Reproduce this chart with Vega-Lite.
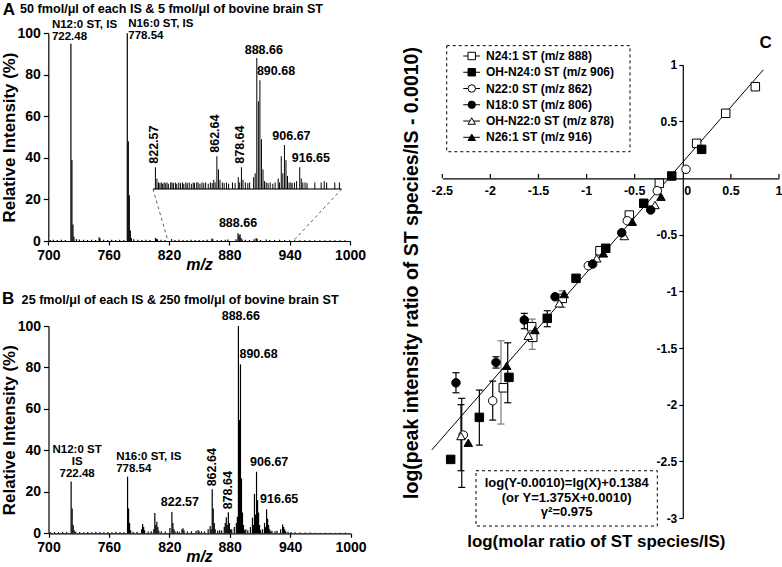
{
  "$schema": "https://vega.github.io/schema/vega-lite/v6.json",
  "width": 782,
  "height": 567,
  "autosize": "none",
  "padding": 0,
  "background": "white",
  "config": {
    "view": {"stroke": null},
    "font": "Liberation Sans",
    "axis": {"grid": false, "domainColor": "black", "tickColor": "black", "labelColor": "black", "titleColor": "black", "labelFontWeight": "bold", "titleFontWeight": "bold", "labelFlush": false, "labelOverlap": false, "domainWidth": 1.2, "tickWidth": 1.2},
    "text": {"font": "Liberation Sans", "fontWeight": "bold", "color": "black"}
  },
  "datasets": {
    "specA": [
      {"mz": 722.48, "int": 95}, {"mz": 723.48, "int": 39}, {"mz": 724.49, "int": 8}, {"mz": 725.5, "int": 2},
      {"mz": 778.54, "int": 100}, {"mz": 779.55, "int": 48}, {"mz": 780.55, "int": 22}, {"mz": 781.56, "int": 5}, {"mz": 782.6, "int": 1.5},
      {"mz": 750.5, "int": 1.8}, {"mz": 751.5, "int": 1.2}, {"mz": 806.6, "int": 1.5}, {"mz": 807.6, "int": 1}, {"mz": 808.6, "int": 0.8},
      {"mz": 822.6, "int": 0.9}, {"mz": 862.64, "int": 1.2}, {"mz": 863.6, "int": 0.8}, {"mz": 878.6, "int": 0.7}, {"mz": 886.6, "int": 0.8},
      {"mz": 888.66, "int": 3.7}, {"mz": 889.67, "int": 2.6}, {"mz": 890.68, "int": 3.2}, {"mz": 891.7, "int": 1.4}, {"mz": 892.7, "int": 0.7},
      {"mz": 904.6, "int": 0.8}, {"mz": 906.67, "int": 1.5}, {"mz": 907.7, "int": 1}, {"mz": 916.65, "int": 0.7},
      {"mz": 702, "int": 0.5}, {"mz": 705, "int": 0.6}, {"mz": 709, "int": 0.5}, {"mz": 713, "int": 0.6}, {"mz": 717, "int": 0.5},
      {"mz": 728, "int": 0.9}, {"mz": 731, "int": 0.7}, {"mz": 735, "int": 0.6}, {"mz": 739, "int": 0.5}, {"mz": 743, "int": 0.6},
      {"mz": 747, "int": 0.5}, {"mz": 755, "int": 0.6}, {"mz": 759, "int": 0.5}, {"mz": 763, "int": 0.6}, {"mz": 767, "int": 0.5},
      {"mz": 771, "int": 0.6}, {"mz": 775, "int": 0.5}, {"mz": 785, "int": 0.8}, {"mz": 789, "int": 0.6}, {"mz": 793, "int": 0.5},
      {"mz": 797, "int": 0.6}, {"mz": 801, "int": 0.5}, {"mz": 812, "int": 0.6}, {"mz": 816, "int": 0.5}, {"mz": 826, "int": 0.5},
      {"mz": 830, "int": 0.6}, {"mz": 834, "int": 0.5}, {"mz": 838, "int": 0.5}, {"mz": 842, "int": 0.6}, {"mz": 846, "int": 0.5},
      {"mz": 850, "int": 0.5}, {"mz": 854, "int": 0.5}, {"mz": 858, "int": 0.6}, {"mz": 868, "int": 0.5}, {"mz": 872, "int": 0.5},
      {"mz": 876, "int": 0.6}, {"mz": 896, "int": 0.6}, {"mz": 900, "int": 0.5}, {"mz": 911, "int": 0.5}, {"mz": 920, "int": 0.5},
      {"mz": 925, "int": 0.5}, {"mz": 930, "int": 0.6}, {"mz": 935, "int": 0.5}, {"mz": 940, "int": 0.4}, {"mz": 945, "int": 0.4},
      {"mz": 950, "int": 0.4}, {"mz": 955, "int": 0.4}, {"mz": 960, "int": 0.4}, {"mz": 965, "int": 0.4}, {"mz": 970, "int": 0.4},
      {"mz": 975, "int": 0.4}, {"mz": 980, "int": 0.4}, {"mz": 985, "int": 0.4}, {"mz": 990, "int": 0.4}, {"mz": 995, "int": 0.4}
    ],
    "specInset": [
      {"mz": 822.57, "int": 16.6}, {"mz": 823.58, "int": 8}, {"mz": 824.6, "int": 5},
      {"mz": 862.64, "int": 25}, {"mz": 863.65, "int": 15}, {"mz": 864.65, "int": 7},
      {"mz": 876.6, "int": 9}, {"mz": 878.64, "int": 16.6}, {"mz": 879.65, "int": 7},
      {"mz": 886.6, "int": 9}, {"mz": 887.6, "int": 12}, {"mz": 888.66, "int": 100}, {"mz": 889.67, "int": 67}, {"mz": 890.68, "int": 83},
      {"mz": 891.69, "int": 38}, {"mz": 892.7, "int": 15}, {"mz": 893.7, "int": 6},
      {"mz": 902.6, "int": 8}, {"mz": 904.6, "int": 25}, {"mz": 905.6, "int": 12}, {"mz": 906.67, "int": 33.6}, {"mz": 907.68, "int": 22},
      {"mz": 908.68, "int": 10}, {"mz": 909.7, "int": 5},
      {"mz": 914.6, "int": 6}, {"mz": 916.65, "int": 16.6}, {"mz": 917.66, "int": 8}, {"mz": 918.66, "int": 5}, {"mz": 932.6, "int": 6},
      {"mz": 825.5, "int": 4.5}, {"mz": 826.4, "int": 5}, {"mz": 827.3, "int": 4}, {"mz": 828.2, "int": 5}, {"mz": 829.0, "int": 4.5},
      {"mz": 830.1, "int": 5}, {"mz": 831.0, "int": 4}, {"mz": 832.5, "int": 5}, {"mz": 833.4, "int": 5}, {"mz": 834.3, "int": 4.5},
      {"mz": 835.6, "int": 5}, {"mz": 836.5, "int": 4}, {"mz": 837.8, "int": 5}, {"mz": 838.9, "int": 4.5}, {"mz": 840.2, "int": 5},
      {"mz": 841.1, "int": 4}, {"mz": 842.4, "int": 5}, {"mz": 843.3, "int": 4.5}, {"mz": 844.6, "int": 5}, {"mz": 846.0, "int": 4},
      {"mz": 847.2, "int": 5}, {"mz": 848.1, "int": 4.5}, {"mz": 849.5, "int": 5}, {"mz": 850.4, "int": 5}, {"mz": 851.6, "int": 4},
      {"mz": 852.9, "int": 5}, {"mz": 854.1, "int": 4.5}, {"mz": 855.3, "int": 5}, {"mz": 857.0, "int": 4}, {"mz": 858.4, "int": 5},
      {"mz": 859.6, "int": 4.5}, {"mz": 860.6, "int": 7}, {"mz": 861.5, "int": 5}, {"mz": 866.2, "int": 5}, {"mz": 867.4, "int": 4.5},
      {"mz": 868.9, "int": 5}, {"mz": 870.3, "int": 4}, {"mz": 872.8, "int": 5}, {"mz": 874.5, "int": 4.5}, {"mz": 877.5, "int": 5},
      {"mz": 881.2, "int": 5}, {"mz": 882.8, "int": 4.5}, {"mz": 884.0, "int": 5}, {"mz": 894.8, "int": 5}, {"mz": 896.0, "int": 4.5},
      {"mz": 897.4, "int": 5}, {"mz": 899.1, "int": 4}, {"mz": 900.6, "int": 5}, {"mz": 903.5, "int": 5}, {"mz": 910.9, "int": 5},
      {"mz": 911.7, "int": 4.5}, {"mz": 913.2, "int": 5}, {"mz": 920.1, "int": 5}, {"mz": 921.4, "int": 4.5}, {"mz": 926.5, "int": 5},
      {"mz": 930.6, "int": 5}, {"mz": 934.2, "int": 5}, {"mz": 939.5, "int": 5}, {"mz": 942.5, "int": 5}
    ],
    "specB": [
      {"mz": 722.48, "int": 25}, {"mz": 723.49, "int": 12}, {"mz": 724.49, "int": 4}, {"mz": 725.5, "int": 1.5},
      {"mz": 778.54, "int": 27.3}, {"mz": 779.55, "int": 12}, {"mz": 780.55, "int": 5}, {"mz": 781.56, "int": 1.5},
      {"mz": 792.5, "int": 2}, {"mz": 793.5, "int": 4.5}, {"mz": 794.5, "int": 3}, {"mz": 795.5, "int": 1.5},
      {"mz": 804.6, "int": 2}, {"mz": 805.6, "int": 9.8}, {"mz": 806.6, "int": 4}, {"mz": 807.6, "int": 5.6}, {"mz": 808.6, "int": 3}, {"mz": 809.6, "int": 1.2},
      {"mz": 820.6, "int": 2.5}, {"mz": 822.57, "int": 10.3}, {"mz": 823.58, "int": 5}, {"mz": 824.58, "int": 2}, {"mz": 825.6, "int": 1},
      {"mz": 832.6, "int": 2}, {"mz": 833.6, "int": 2.4}, {"mz": 834.6, "int": 1.5},
      {"mz": 846.6, "int": 1.2}, {"mz": 848.6, "int": 1.6}, {"mz": 849.6, "int": 1},
      {"mz": 858.6, "int": 2}, {"mz": 860.6, "int": 3.5}, {"mz": 861.6, "int": 2}, {"mz": 862.64, "int": 21.2}, {"mz": 863.65, "int": 12}, {"mz": 864.65, "int": 5}, {"mz": 865.6, "int": 2},
      {"mz": 874.6, "int": 3}, {"mz": 875.6, "int": 5}, {"mz": 876.6, "int": 7.7}, {"mz": 877.6, "int": 4}, {"mz": 878.64, "int": 10.1}, {"mz": 879.65, "int": 5}, {"mz": 880.6, "int": 2},
      {"mz": 884.6, "int": 3}, {"mz": 886.6, "int": 5}, {"mz": 887.6, "int": 8}, {"mz": 888.66, "int": 100}, {"mz": 889.67, "int": 54.7}, {"mz": 890.68, "int": 81.5},
      {"mz": 891.69, "int": 26.5}, {"mz": 892.7, "int": 10}, {"mz": 893.7, "int": 4}, {"mz": 894.7, "int": 1.5},
      {"mz": 900.6, "int": 3}, {"mz": 902.6, "int": 7.5}, {"mz": 903.6, "int": 4}, {"mz": 904.6, "int": 19}, {"mz": 905.6, "int": 9}, {"mz": 906.67, "int": 29.7},
      {"mz": 907.68, "int": 16}, {"mz": 908.68, "int": 10}, {"mz": 909.7, "int": 4}, {"mz": 910.7, "int": 1.5},
      {"mz": 912.6, "int": 2}, {"mz": 914.6, "int": 5}, {"mz": 915.6, "int": 3}, {"mz": 916.65, "int": 11.6}, {"mz": 917.66, "int": 7}, {"mz": 918.66, "int": 4}, {"mz": 919.7, "int": 2}, {"mz": 920.7, "int": 1},
      {"mz": 930.6, "int": 2}, {"mz": 932.6, "int": 4.3}, {"mz": 933.6, "int": 3}, {"mz": 934.6, "int": 2}, {"mz": 935.6, "int": 1},
      {"mz": 702, "int": 0.5}, {"mz": 706, "int": 0.6}, {"mz": 710, "int": 0.5}, {"mz": 714, "int": 0.7}, {"mz": 718, "int": 0.6},
      {"mz": 727, "int": 0.8}, {"mz": 731, "int": 0.6}, {"mz": 735, "int": 0.5}, {"mz": 739, "int": 0.6}, {"mz": 743, "int": 0.5},
      {"mz": 747, "int": 0.7}, {"mz": 751, "int": 0.6}, {"mz": 755, "int": 0.5}, {"mz": 759, "int": 0.6}, {"mz": 763, "int": 0.5},
      {"mz": 767, "int": 0.7}, {"mz": 771, "int": 0.6}, {"mz": 775, "int": 0.5}, {"mz": 784, "int": 0.8}, {"mz": 788, "int": 0.7},
      {"mz": 799, "int": 0.9}, {"mz": 802, "int": 1}, {"mz": 812, "int": 1}, {"mz": 816, "int": 0.9}, {"mz": 828, "int": 1},
      {"mz": 830, "int": 0.8}, {"mz": 838, "int": 0.9}, {"mz": 842, "int": 1}, {"mz": 852, "int": 1}, {"mz": 855, "int": 0.9},
      {"mz": 868, "int": 1.2}, {"mz": 870, "int": 1.5}, {"mz": 872, "int": 1.3}, {"mz": 882, "int": 2}, {"mz": 896, "int": 2},
      {"mz": 898, "int": 1.5}, {"mz": 922, "int": 1.2}, {"mz": 925, "int": 1}, {"mz": 927, "int": 1.2}, {"mz": 938, "int": 0.8},
      {"mz": 941, "int": 0.6}, {"mz": 945, "int": 0.5}, {"mz": 950, "int": 0.4}, {"mz": 955, "int": 0.4}, {"mz": 960, "int": 0.4},
      {"mz": 965, "int": 0.3}, {"mz": 970, "int": 0.3}, {"mz": 975, "int": 0.3}, {"mz": 980, "int": 0.3}, {"mz": 985, "int": 0.3},
      {"mz": 990, "int": 0.3}, {"mz": 995, "int": 0.3}
    ],
    "labA": [
      {"mz": 722.48, "int": 95, "label": "N12:0 ST, IS\n722.48"},
      {"mz": 778.54, "int": 100, "label": "N16:0 ST, IS\n778.54"},
      {"mz": 888.66, "int": 3.7, "label": "888.66"}
    ],
    "labInset": [
      {"mz": 888.66, "int": 100, "label": "888.66"},
      {"mz": 906.67, "int": 33.6, "label": "906.67"},
      {"mz": 890.68, "int": 83, "label": "890.68"},
      {"mz": 916.65, "int": 16.6, "label": "916.65"},
      {"mz": 822.57, "int": 16.6, "label": "822.57"},
      {"mz": 862.64, "int": 25, "label": "862.64"},
      {"mz": 878.64, "int": 16.6, "label": "878.64"}
    ],
    "labB": [
      {"mz": 722.48, "int": 25, "label": "N12:0 ST\nIS\n722.48"},
      {"mz": 822.57, "int": 10.3, "label": "822.57"},
      {"mz": 778.54, "int": 27.3, "label": "N16:0 ST, IS\n778.54"},
      {"mz": 888.66, "int": 100, "label": "888.66"},
      {"mz": 890.68, "int": 81.5, "label": "890.68"},
      {"mz": 906.67, "int": 29.7, "label": "906.67"},
      {"mz": 916.65, "int": 11.6, "label": "916.65"},
      {"mz": 862.64, "int": 21.2, "label": "862.64"},
      {"mz": 878.64, "int": 10.1, "label": "878.64"}
    ],
    "connA": [
      {"mz": 804.1, "int": 25, "mz2": 819, "int2": 0},
      {"mz": 991.7, "int": 25, "mz2": 943.6, "int2": 0}
    ],
    "insetRange": [{"from": 821, "to": 944}],
    "titles": [
      {"panel": "A", "title": "50 fmol/μl of each IS & 5 fmol/μl of bovine brain ST"},
      {"panel": "B", "title": "25 fmol/μl of each IS & 250 fmol/μl of bovine brain ST"},
      {"panel": "C", "title": ""}
    ],
    "pts": [
      {"series": "N24:1", "x": 0.754, "y": 0.806}, {"series": "N24:1", "x": 0.446, "y": 0.571}, {"series": "N24:1", "x": 0.144, "y": 0.306},
      {"series": "N24:1", "x": -0.244, "y": -0.047}, {"series": "N24:1", "x": -0.556, "y": -0.327}, {"series": "N24:1", "x": -0.861, "y": -0.642},
      {"series": "N24:1", "x": -1.253, "y": -1.062}, {"series": "N24:1", "x": -1.571, "y": -1.312}, {"series": "N24:1", "x": -1.56, "y": -1.406},
      {"series": "N24:1", "x": -1.866, "y": -1.851},
      {"series": "N22:0", "x": 0.033, "y": 0.077}, {"series": "N22:0", "x": -0.265, "y": -0.112}, {"series": "N22:0", "x": -0.577, "y": -0.377},
      {"series": "N22:0", "x": -0.982, "y": -0.774}, {"series": "N22:0", "x": -1.976, "y": -1.966}, {"series": "N22:0", "x": -2.282, "y": -2.268},
      {"series": "OH-N22:0", "x": -0.289, "y": -0.238}, {"series": "OH-N22:0", "x": -0.608, "y": -0.512}, {"series": "OH-N22:0", "x": -0.895, "y": -0.709},
      {"series": "OH-N22:0", "x": -1.284, "y": -1.106}, {"series": "OH-N22:0", "x": -1.606, "y": -1.392}, {"series": "OH-N22:0", "x": -2.306, "y": -2.277},
      {"series": "OH-N24:0", "x": 0.196, "y": 0.253}, {"series": "OH-N24:0", "x": -0.115, "y": 0.018}, {"series": "OH-N24:0", "x": -0.406, "y": -0.223},
      {"series": "OH-N24:0", "x": -0.801, "y": -0.62}, {"series": "OH-N24:0", "x": -1.11, "y": -0.885}, {"series": "OH-N24:0", "x": -1.409, "y": -1.238},
      {"series": "OH-N24:0", "x": -1.807, "y": -1.759}, {"series": "OH-N24:0", "x": -2.115, "y": -2.112}, {"series": "OH-N24:0", "x": -2.413, "y": -2.483},
      {"series": "N18:0", "x": -0.334, "y": -0.282}, {"series": "N18:0", "x": -0.635, "y": -0.483}, {"series": "N18:0", "x": -0.937, "y": -0.759},
      {"series": "N18:0", "x": -1.328, "y": -1.048}, {"series": "N18:0", "x": -1.648, "y": -1.253}, {"series": "N18:0", "x": -1.942, "y": -1.627},
      {"series": "N18:0", "x": -2.358, "y": -1.807},
      {"series": "N26:1", "x": -0.227, "y": -0.165}, {"series": "N26:1", "x": -0.525, "y": -0.386}, {"series": "N26:1", "x": -0.826, "y": -0.665},
      {"series": "N26:1", "x": -1.232, "y": -1.024}, {"series": "N26:1", "x": -1.536, "y": -1.342}, {"series": "N26:1", "x": -1.831, "y": -1.657},
      {"series": "N26:1", "x": -2.23, "y": -2.336}
    ],
    "err": [
      {"series": "N18:0", "x": -2.358, "lo": -1.895, "hi": -1.718},
      {"series": "N22:0", "x": -2.298, "lo": -2.73, "hi": -1.944},
      {"series": "OH-N22:0", "x": -2.306, "lo": -2.583, "hi": -2.0},
      {"series": "OH-N24:0", "x": -2.115, "lo": -2.357, "hi": -1.871},
      {"series": "N22:0", "x": -1.976, "lo": -2.136, "hi": -1.792},
      {"series": "N18:0", "x": -1.942, "lo": -1.677, "hi": -1.577},
      {"series": "N24:1", "x": -1.89, "lo": -2.171, "hi": -1.436},
      {"series": "OH-N24:0", "x": -1.82, "lo": -1.983, "hi": -1.454},
      {"series": "N18:0", "x": -1.648, "lo": -1.33, "hi": -1.194},
      {"series": "N24:1", "x": -1.565, "lo": -1.512, "hi": -1.245},
      {"series": "OH-N24:0", "x": -1.409, "lo": -1.312, "hi": -1.171},
      {"series": "N24:1", "x": -1.253, "lo": -1.141, "hi": -0.995}
    ],
    "fit": [{"x": -2.61, "y": -2.4}, {"x": 0.837, "y": 0.955}],
    "legendC": [
      {"series": "N24:1", "label": "N24:1 ST (m/z 888)"},
      {"series": "OH-N24:0", "label": "OH-N24:0 ST (m/z 906)"},
      {"series": "N22:0", "label": "N22:0 ST (m/z 862)"},
      {"series": "N18:0", "label": "N18:0 ST (m/z 806)"},
      {"series": "OH-N22:0", "label": "OH-N22:0 ST (m/z 878)"},
      {"series": "N26:1", "label": "N26:1 ST (m/z 916)"}
    ],
    "eq": [{"text": "log(Y-0.0010)=lg(X)+0.1384\n(or Y=1.375X+0.0010)\nγ²=0.975"}],
    "boxes": [{"box": "legend"}, {"box": "equation"}],
    "origin": [{"x": 0, "y": 0, "label": "0"}],
    "cTicks": [
      {"v": -2.5, "label": "-2.5"}, {"v": -2, "label": "-2"}, {"v": -1.5, "label": "-1.5"}, {"v": -1, "label": "-1"},
      {"v": -0.5, "label": "-0.5"}, {"v": 0.5, "label": "0.5"}, {"v": 1, "label": "1"}
    ]
  },
  "layer": [
    {
      "data": {"name": "specA"},
      "mark": {"type": "rule", "color": "black", "strokeWidth": 1.2},
      "encoding": {
        "x": {"field": "mz", "type": "quantitative", "scale": {"domain": [700, 1000], "range": [48.3, 350], "nice": false, "zero": false},
          "axis": {"orient": "bottom", "offset": -326, "values": [700, 760, 820, 880, 940, 1000], "format": "d", "tickSize": 4, "labelPadding": 3, "labelFontSize": 14,
            "title": "m/z", "titleFontStyle": "italic", "titleFontSize": 16, "titleX": 199, "titleY": 23, "titleBaseline": "middle", "titleAlign": "center", "titleAngle": 0}},
        "y": {"field": "int", "type": "quantitative", "scale": {"domain": [0, 100], "range": [241, 33.3], "nice": false, "zero": false},
          "axis": {"orient": "left", "offset": -48.3, "values": [0, 20, 40, 60, 80, 100], "format": "d", "tickSize": 5, "labelPadding": 3, "labelFontSize": 14,
            "title": "Relative Intensity (%)", "titleFontSize": 16.9, "titleAngle": 270, "titleX": -38.8, "titleY": 137, "titleBaseline": "middle", "titleAlign": "center"}},
        "y2": {"datum": 0}
      }
    },
    {
      "data": {"name": "labA"},
      "transform": [{"filter": {"field": "mz", "oneOf": [722.48]}}],
      "mark": {"type": "text", "align": "left", "baseline": "bottom", "dx": -19, "dy": -14, "fontSize": 11.5, "lineBreak": "\n", "lineHeight": 12},
      "encoding": {
        "x": {"field": "mz", "type": "quantitative", "scale": {"domain": [700, 1000], "range": [48.3, 350], "nice": false, "zero": false}, "axis": null},
        "y": {"field": "int", "type": "quantitative", "scale": {"domain": [0, 100], "range": [241, 33.3], "nice": false, "zero": false}, "axis": null},
        "text": {"field": "label"}}
    },
    {
      "data": {"name": "labA"},
      "transform": [{"filter": {"field": "mz", "oneOf": [778.54]}}],
      "mark": {"type": "text", "align": "left", "baseline": "bottom", "dx": 1, "dy": -4, "fontSize": 11.5, "lineBreak": "\n", "lineHeight": 12},
      "encoding": {
        "x": {"field": "mz", "type": "quantitative", "scale": {"domain": [700, 1000], "range": [48.3, 350], "nice": false, "zero": false}, "axis": null},
        "y": {"field": "int", "type": "quantitative", "scale": {"domain": [0, 100], "range": [241, 33.3], "nice": false, "zero": false}, "axis": null},
        "text": {"field": "label"}}
    },
    {
      "data": {"name": "labA"},
      "transform": [{"filter": {"field": "mz", "oneOf": [888.66]}}],
      "mark": {"type": "text", "align": "center", "baseline": "bottom", "dx": 0, "dy": -3, "fontSize": 12.5},
      "encoding": {
        "x": {"field": "mz", "type": "quantitative", "scale": {"domain": [700, 1000], "range": [48.3, 350], "nice": false, "zero": false}, "axis": null},
        "y": {"field": "int", "type": "quantitative", "scale": {"domain": [0, 100], "range": [241, 33.3], "nice": false, "zero": false}, "axis": null},
        "text": {"field": "label"}}
    },
    {
      "data": {"name": "connA"},
      "mark": {"type": "rule", "color": "#333", "strokeWidth": 0.8, "strokeDash": [3, 3]},
      "encoding": {
        "x": {"field": "mz", "type": "quantitative", "scale": {"domain": [700, 1000], "range": [48.3, 350], "nice": false, "zero": false}, "axis": null},
        "y": {"field": "int", "type": "quantitative", "scale": {"domain": [0, 100], "range": [241, 33.3], "nice": false, "zero": false}, "axis": null},
        "x2": {"field": "mz2"}, "y2": {"field": "int2"}}
    },
    {
      "data": {"name": "titles"},
      "transform": [{"filter": "datum.panel == 'A'"}],
      "mark": {"type": "text", "align": "left", "baseline": "middle", "fontSize": 17},
      "encoding": {
        "x": {"datum": 654.7, "type": "quantitative", "scale": {"domain": [700, 1000], "range": [48.3, 350], "nice": false, "zero": false}, "axis": null},
        "y": {"datum": 111.2, "type": "quantitative", "scale": {"domain": [0, 100], "range": [241, 33.3], "nice": false, "zero": false}, "axis": null},
        "text": {"field": "panel"}}
    },
    {
      "data": {"name": "titles"},
      "transform": [{"filter": "datum.panel == 'A'"}],
      "mark": {"type": "text", "align": "left", "baseline": "middle", "fontSize": 12.6},
      "encoding": {
        "x": {"datum": 671.9, "type": "quantitative", "scale": {"domain": [700, 1000], "range": [48.3, 350], "nice": false, "zero": false}, "axis": null},
        "y": {"datum": 111.7, "type": "quantitative", "scale": {"domain": [0, 100], "range": [241, 33.3], "nice": false, "zero": false}, "axis": null},
        "text": {"field": "title"}}
    },
    {
      "data": {"name": "insetRange"},
      "mark": {"type": "rule", "color": "#444", "strokeWidth": 1.5},
      "encoding": {
        "x": {"field": "from", "type": "quantitative", "scale": {"domain": [821, 944], "range": [153, 341.7], "nice": false, "zero": false}, "axis": null},
        "x2": {"field": "to"},
        "y": {"datum": 0, "type": "quantitative", "scale": {"domain": [0, 100], "range": [189, 58], "nice": false, "zero": false}, "axis": null}
      }
    },
    {
      "data": {"name": "specInset"},
      "mark": {"type": "rule", "color": "black", "strokeWidth": 1},
      "encoding": {
        "x": {"field": "mz", "type": "quantitative", "scale": {"domain": [821, 944], "range": [153, 341.7], "nice": false, "zero": false}, "axis": null},
        "y": {"field": "int", "type": "quantitative", "scale": {"domain": [0, 100], "range": [189, 58], "nice": false, "zero": false}, "axis": null},
        "y2": {"datum": 0}}
    },
    {
      "data": {"name": "labInset"},
      "transform": [{"filter": {"field": "mz", "oneOf": [888.66, 906.67]}}],
      "mark": {"type": "text", "align": "center", "baseline": "bottom", "dx": 7, "dy": -1.5, "fontSize": 12.5},
      "encoding": {
        "x": {"field": "mz", "type": "quantitative", "scale": {"domain": [821, 944], "range": [153, 341.7], "nice": false, "zero": false}, "axis": null},
        "y": {"field": "int", "type": "quantitative", "scale": {"domain": [0, 100], "range": [189, 58], "nice": false, "zero": false}, "axis": null},
        "text": {"field": "label"}}
    },
    {
      "data": {"name": "labInset"},
      "transform": [{"filter": {"field": "mz", "oneOf": [890.68]}}],
      "mark": {"type": "text", "align": "left", "baseline": "bottom", "dx": -3, "dy": -2, "fontSize": 12.5},
      "encoding": {
        "x": {"field": "mz", "type": "quantitative", "scale": {"domain": [821, 944], "range": [153, 341.7], "nice": false, "zero": false}, "axis": null},
        "y": {"field": "int", "type": "quantitative", "scale": {"domain": [0, 100], "range": [189, 58], "nice": false, "zero": false}, "axis": null},
        "text": {"field": "label"}}
    },
    {
      "data": {"name": "labInset"},
      "transform": [{"filter": {"field": "mz", "oneOf": [916.65]}}],
      "mark": {"type": "text", "align": "left", "baseline": "bottom", "dx": -8, "dy": -2, "fontSize": 12.5},
      "encoding": {
        "x": {"field": "mz", "type": "quantitative", "scale": {"domain": [821, 944], "range": [153, 341.7], "nice": false, "zero": false}, "axis": null},
        "y": {"field": "int", "type": "quantitative", "scale": {"domain": [0, 100], "range": [189, 58], "nice": false, "zero": false}, "axis": null},
        "text": {"field": "label"}}
    },
    {
      "data": {"name": "labInset"},
      "transform": [{"filter": {"field": "mz", "oneOf": [822.57, 862.64, 878.64]}}],
      "mark": {"type": "text", "align": "left", "baseline": "middle", "angle": 270, "dx": 3.5, "dy": -1.5, "fontSize": 12.5},
      "encoding": {
        "x": {"field": "mz", "type": "quantitative", "scale": {"domain": [821, 944], "range": [153, 341.7], "nice": false, "zero": false}, "axis": null},
        "y": {"field": "int", "type": "quantitative", "scale": {"domain": [0, 100], "range": [189, 58], "nice": false, "zero": false}, "axis": null},
        "text": {"field": "label"}}
    },
    {
      "data": {"name": "specB"},
      "mark": {"type": "rule", "color": "black", "strokeWidth": 1.2},
      "encoding": {
        "x": {"field": "mz", "type": "quantitative", "scale": {"domain": [700, 1000], "range": [48.5, 350.5], "nice": false, "zero": false},
          "axis": {"orient": "bottom", "offset": -33.7, "values": [700, 760, 820, 880, 940, 1000], "format": "d", "tickSize": 4, "labelPadding": 3, "labelFontSize": 14,
            "title": "m/z", "titleFontStyle": "italic", "titleFontSize": 16, "titleX": 199, "titleY": 23.5, "titleBaseline": "middle", "titleAlign": "center", "titleAngle": 0}},
        "y": {"field": "int", "type": "quantitative", "scale": {"domain": [0, 100], "range": [533.3, 326], "nice": false, "zero": false},
          "axis": {"orient": "left", "offset": -48.5, "values": [0, 20, 40, 60, 80, 100], "format": "d", "tickSize": 5, "labelPadding": 3, "labelFontSize": 14,
            "title": "Relative Intensity (%)", "titleFontSize": 16.9, "titleAngle": 270, "titleX": -39, "titleY": 429.7, "titleBaseline": "middle", "titleAlign": "center"}},
        "y2": {"datum": 0}
      }
    },
    {
      "data": {"name": "labB"},
      "transform": [{"filter": {"field": "mz", "oneOf": [722.48]}}],
      "mark": {"type": "text", "align": "center", "baseline": "bottom", "dx": 6, "dy": -26, "fontSize": 11.5, "lineBreak": "\n", "lineHeight": 12},
      "encoding": {
        "x": {"field": "mz", "type": "quantitative", "scale": {"domain": [700, 1000], "range": [48.5, 350.5], "nice": false, "zero": false}, "axis": null},
        "y": {"field": "int", "type": "quantitative", "scale": {"domain": [0, 100], "range": [533.3, 326], "nice": false, "zero": false}, "axis": null},
        "text": {"field": "label"}}
    },
    {
      "data": {"name": "labB"},
      "transform": [{"filter": {"field": "mz", "oneOf": [822.57]}}],
      "mark": {"type": "text", "align": "center", "baseline": "bottom", "dx": 8, "dy": -2.6, "fontSize": 12.5},
      "encoding": {
        "x": {"field": "mz", "type": "quantitative", "scale": {"domain": [700, 1000], "range": [48.5, 350.5], "nice": false, "zero": false}, "axis": null},
        "y": {"field": "int", "type": "quantitative", "scale": {"domain": [0, 100], "range": [533.3, 326], "nice": false, "zero": false}, "axis": null},
        "text": {"field": "label"}}
    },
    {
      "data": {"name": "labB"},
      "transform": [{"filter": {"field": "mz", "oneOf": [778.54]}}],
      "mark": {"type": "text", "align": "left", "baseline": "bottom", "dx": -11.4, "dy": -15, "fontSize": 11.5, "lineBreak": "\n", "lineHeight": 12},
      "encoding": {
        "x": {"field": "mz", "type": "quantitative", "scale": {"domain": [700, 1000], "range": [48.5, 350.5], "nice": false, "zero": false}, "axis": null},
        "y": {"field": "int", "type": "quantitative", "scale": {"domain": [0, 100], "range": [533.3, 326], "nice": false, "zero": false}, "axis": null},
        "text": {"field": "label"}}
    },
    {
      "data": {"name": "labB"},
      "transform": [{"filter": {"field": "mz", "oneOf": [888.66]}}],
      "mark": {"type": "text", "align": "center", "baseline": "bottom", "dx": 2.4, "dy": -3, "fontSize": 12.5},
      "encoding": {
        "x": {"field": "mz", "type": "quantitative", "scale": {"domain": [700, 1000], "range": [48.5, 350.5], "nice": false, "zero": false}, "axis": null},
        "y": {"field": "int", "type": "quantitative", "scale": {"domain": [0, 100], "range": [533.3, 326], "nice": false, "zero": false}, "axis": null},
        "text": {"field": "label"}}
    },
    {
      "data": {"name": "labB"},
      "transform": [{"filter": {"field": "mz", "oneOf": [890.68]}}],
      "mark": {"type": "text", "align": "left", "baseline": "bottom", "dx": -1, "dy": -3, "fontSize": 12.5},
      "encoding": {
        "x": {"field": "mz", "type": "quantitative", "scale": {"domain": [700, 1000], "range": [48.5, 350.5], "nice": false, "zero": false}, "axis": null},
        "y": {"field": "int", "type": "quantitative", "scale": {"domain": [0, 100], "range": [533.3, 326], "nice": false, "zero": false}, "axis": null},
        "text": {"field": "label"}}
    },
    {
      "data": {"name": "labB"},
      "transform": [{"filter": {"field": "mz", "oneOf": [906.67, 916.65]}}],
      "mark": {"type": "text", "align": "left", "baseline": "bottom", "dx": -6.5, "dy": -3, "fontSize": 12.5},
      "encoding": {
        "x": {"field": "mz", "type": "quantitative", "scale": {"domain": [700, 1000], "range": [48.5, 350.5], "nice": false, "zero": false}, "axis": null},
        "y": {"field": "int", "type": "quantitative", "scale": {"domain": [0, 100], "range": [533.3, 326], "nice": false, "zero": false}, "axis": null},
        "text": {"field": "label"}}
    },
    {
      "data": {"name": "labB"},
      "transform": [{"filter": {"field": "mz", "oneOf": [862.64, 878.64]}}],
      "mark": {"type": "text", "align": "left", "baseline": "middle", "angle": 270, "dx": 3, "dy": 0, "fontSize": 12.5},
      "encoding": {
        "x": {"field": "mz", "type": "quantitative", "scale": {"domain": [700, 1000], "range": [48.5, 350.5], "nice": false, "zero": false}, "axis": null},
        "y": {"field": "int", "type": "quantitative", "scale": {"domain": [0, 100], "range": [533.3, 326], "nice": false, "zero": false}, "axis": null},
        "text": {"field": "label"}}
    },
    {
      "data": {"name": "titles"},
      "transform": [{"filter": "datum.panel == 'B'"}],
      "mark": {"type": "text", "align": "left", "baseline": "middle", "fontSize": 17},
      "encoding": {
        "x": {"datum": 653.7, "type": "quantitative", "scale": {"domain": [700, 1000], "range": [48.5, 350.5], "nice": false, "zero": false}, "axis": null},
        "y": {"datum": 112.8, "type": "quantitative", "scale": {"domain": [0, 100], "range": [533.3, 326], "nice": false, "zero": false}, "axis": null},
        "text": {"field": "panel"}}
    },
    {
      "data": {"name": "titles"},
      "transform": [{"filter": "datum.panel == 'B'"}],
      "mark": {"type": "text", "align": "left", "baseline": "middle", "fontSize": 12.6},
      "encoding": {
        "x": {"datum": 673.3, "type": "quantitative", "scale": {"domain": [700, 1000], "range": [48.5, 350.5], "nice": false, "zero": false}, "axis": null},
        "y": {"datum": 112.5, "type": "quantitative", "scale": {"domain": [0, 100], "range": [533.3, 326], "nice": false, "zero": false}, "axis": null},
        "text": {"field": "title"}}
    },
    {
      "data": {"name": "err"},
      "mark": {"type": "rule", "strokeWidth": 1.2},
      "encoding": {
        "x": {"field": "x", "type": "quantitative", "scale": {"domain": [-2.5, 1], "range": [442.3, 779], "nice": false, "zero": false},
          "axis": {"orient": "bottom", "offset": -388.7, "values": [-2.5, -2, -1.5, -1, -0.5, 0, 0.5, 1], "labels": false, "ticks": false,
            "title": "log(molar ratio of ST species/IS)", "titleFontSize": 16.9, "titleX": 595.8, "titleY": 362.7, "titleBaseline": "middle", "titleAlign": "center", "titleAngle": 0}},
        "y": {"field": "lo", "type": "quantitative", "scale": {"domain": [-3, 1], "range": [518, 64.7], "nice": false, "zero": false},
          "axis": {"orient": "left", "offset": -682.8, "values": [-3, -2.5, -2, -1.5, -1, -0.5, 0.5, 1], "labelExpr": "'' + datum.value", "tickSize": 4, "labelPadding": 2, "labelFontSize": 12,
            "title": "log(peak intensity ratio of ST species/IS - 0.0010)", "titleFontSize": 19.5, "titleAngle": 270, "titleX": -271.1, "titleY": 272.5, "titleBaseline": "middle", "titleAlign": "center"}},
        "y2": {"field": "hi"},
        "color": {"field": "series", "type": "nominal", "scale": {"domain": ["N24:1", "OH-N24:0", "N22:0", "N18:0", "OH-N22:0", "N26:1"], "range": ["#7a7a7a", "black", "black", "black", "black", "black"]}, "legend": null}
      }
    },
    {
      "data": {"name": "cTicks"},
      "mark": {"type": "rule", "color": "black", "strokeWidth": 1.2},
      "encoding": {
        "x": {"field": "v", "type": "quantitative", "scale": {"domain": [-2.5, 1], "range": [442.3, 779], "nice": false, "zero": false}, "axis": null},
        "y": {"datum": 0, "type": "quantitative", "scale": {"domain": [-3, 1], "range": [518, 64.7], "nice": false, "zero": false}, "axis": null},
        "y2": {"datum": 0.036}}
    },
    {
      "data": {"name": "cTicks"},
      "mark": {"type": "text", "align": "center", "baseline": "top", "dy": 7, "fontSize": 12.5},
      "encoding": {
        "x": {"field": "v", "type": "quantitative", "scale": {"domain": [-2.5, 1], "range": [442.3, 779], "nice": false, "zero": false}, "axis": null},
        "y": {"datum": 0, "type": "quantitative", "scale": {"domain": [-3, 1], "range": [518, 64.7], "nice": false, "zero": false}, "axis": null},
        "text": {"field": "label"}}
    },
    {
      "data": {"name": "err"},
      "mark": {"type": "tick", "orient": "horizontal", "size": 7, "thickness": 1.2, "opacity": 1},
      "encoding": {
        "x": {"field": "x", "type": "quantitative", "scale": {"domain": [-2.5, 1], "range": [442.3, 779], "nice": false, "zero": false}, "axis": null},
        "y": {"field": "lo", "type": "quantitative", "scale": {"domain": [-3, 1], "range": [518, 64.7], "nice": false, "zero": false}, "axis": null},
        "color": {"field": "series", "type": "nominal", "scale": {"domain": ["N24:1", "OH-N24:0", "N22:0", "N18:0", "OH-N22:0", "N26:1"], "range": ["#7a7a7a", "black", "black", "black", "black", "black"]}, "legend": null}}
    },
    {
      "data": {"name": "err"},
      "mark": {"type": "tick", "orient": "horizontal", "size": 7, "thickness": 1.2, "opacity": 1},
      "encoding": {
        "x": {"field": "x", "type": "quantitative", "scale": {"domain": [-2.5, 1], "range": [442.3, 779], "nice": false, "zero": false}, "axis": null},
        "y": {"field": "hi", "type": "quantitative", "scale": {"domain": [-3, 1], "range": [518, 64.7], "nice": false, "zero": false}, "axis": null},
        "color": {"field": "series", "type": "nominal", "scale": {"domain": ["N24:1", "OH-N24:0", "N22:0", "N18:0", "OH-N22:0", "N26:1"], "range": ["#7a7a7a", "black", "black", "black", "black", "black"]}, "legend": null}}
    },
    {
      "data": {"name": "fit"},
      "mark": {"type": "line", "color": "black", "strokeWidth": 1},
      "encoding": {
        "x": {"field": "x", "type": "quantitative", "scale": {"domain": [-2.5, 1], "range": [442.3, 779], "nice": false, "zero": false}, "axis": null},
        "y": {"field": "y", "type": "quantitative", "scale": {"domain": [-3, 1], "range": [518, 64.7], "nice": false, "zero": false}, "axis": null}}
    },
    {
      "data": {"name": "pts"},
      "mark": {"type": "point", "filled": true, "stroke": "black", "strokeWidth": 1, "size": 72, "opacity": 1},
      "encoding": {
        "x": {"field": "x", "type": "quantitative", "scale": {"domain": [-2.5, 1], "range": [442.3, 779], "nice": false, "zero": false}, "axis": null},
        "y": {"field": "y", "type": "quantitative", "scale": {"domain": [-3, 1], "range": [518, 64.7], "nice": false, "zero": false}, "axis": null},
        "shape": {"field": "series", "type": "nominal", "scale": {"domain": ["N24:1", "OH-N24:0", "N22:0", "N18:0", "OH-N22:0", "N26:1"], "range": ["square", "square", "circle", "circle", "triangle-up", "triangle-up"]}, "legend": null},
        "fill": {"field": "series", "type": "nominal", "scale": {"domain": ["N24:1", "OH-N24:0", "N22:0", "N18:0", "OH-N22:0", "N26:1"], "range": ["white", "black", "white", "black", "white", "black"]}, "legend": null}
      }
    },
    {
      "data": {"name": "origin"},
      "mark": {"type": "text", "align": "left", "baseline": "top", "dx": 1.5, "dy": 7, "fontSize": 12.5},
      "encoding": {
        "x": {"field": "x", "type": "quantitative", "scale": {"domain": [-2.5, 1], "range": [442.3, 779], "nice": false, "zero": false}, "axis": null},
        "y": {"field": "y", "type": "quantitative", "scale": {"domain": [-3, 1], "range": [518, 64.7], "nice": false, "zero": false}, "axis": null},
        "text": {"field": "label"}}
    },
    {
      "data": {"name": "boxes"},
      "transform": [{"filter": "datum.box == 'legend'"}],
      "mark": {"type": "rect", "fill": "transparent", "stroke": "black", "strokeWidth": 1, "strokeDash": [3, 3]},
      "encoding": {
        "x": {"datum": -2.454, "type": "quantitative", "scale": {"domain": [-2.5, 1], "range": [442.3, 779], "nice": false, "zero": false}, "axis": null},
        "x2": {"datum": -0.549},
        "y": {"datum": 1.168, "type": "quantitative", "scale": {"domain": [-3, 1], "range": [518, 64.7], "nice": false, "zero": false}, "axis": null},
        "y2": {"datum": 0.232}}
    },
    {
      "data": {"name": "boxes"},
      "transform": [{"filter": "datum.box == 'equation'"}],
      "mark": {"type": "rect", "fill": "white", "stroke": "black", "strokeWidth": 1, "strokeDash": [3, 3]},
      "encoding": {
        "x": {"datum": -2.15, "type": "quantitative", "scale": {"domain": [-2.5, 1], "range": [442.3, 779], "nice": false, "zero": false}, "axis": null},
        "x2": {"datum": -0.265},
        "y": {"datum": -2.583, "type": "quantitative", "scale": {"domain": [-3, 1], "range": [518, 64.7], "nice": false, "zero": false}, "axis": null},
        "y2": {"datum": -3.071}}
    },
    {
      "data": {"name": "eq"},
      "mark": {"type": "text", "align": "center", "baseline": "middle", "fontSize": 13, "lineBreak": "\n", "lineHeight": 14.2},
      "encoding": {
        "x": {"datum": -1.207, "type": "quantitative", "scale": {"domain": [-2.5, 1], "range": [442.3, 779], "nice": false, "zero": false}, "axis": null},
        "y": {"datum": -2.695, "type": "quantitative", "scale": {"domain": [-3, 1], "range": [518, 64.7], "nice": false, "zero": false}, "axis": null},
        "text": {"field": "text"}}
    },
    {
      "data": {"name": "titles"},
      "transform": [{"filter": "datum.panel == 'C'"}],
      "mark": {"type": "text", "align": "center", "baseline": "middle", "fontSize": 17},
      "encoding": {
        "x": {"datum": 0.86, "type": "quantitative", "scale": {"domain": [-2.5, 1], "range": [442.3, 779], "nice": false, "zero": false}, "axis": null},
        "y": {"datum": 1.192, "type": "quantitative", "scale": {"domain": [-3, 1], "range": [518, 64.7], "nice": false, "zero": false}, "axis": null},
        "text": {"field": "panel"}}
    },
    {
      "data": {"name": "legendC"},
      "mark": {"type": "rule", "color": "black", "strokeWidth": 1},
      "encoding": {
        "x": {"datum": -2.282, "type": "quantitative", "scale": {"domain": [-2.5, 1], "range": [442.3, 779], "nice": false, "zero": false}, "axis": null},
        "x2": {"datum": -2.108},
        "y": {"field": "series", "type": "nominal", "scale": {"type": "point", "domain": ["N24:1", "OH-N24:0", "N22:0", "N18:0", "OH-N22:0", "N26:1"], "range": [56, 137.3], "padding": 0}, "axis": null}
      }
    },
    {
      "data": {"name": "legendC"},
      "mark": {"type": "point", "filled": true, "stroke": "black", "strokeWidth": 1, "size": 55, "opacity": 1},
      "encoding": {
        "x": {"datum": -2.194, "type": "quantitative", "scale": {"domain": [-2.5, 1], "range": [442.3, 779], "nice": false, "zero": false}, "axis": null},
        "y": {"field": "series", "type": "nominal", "scale": {"type": "point", "domain": ["N24:1", "OH-N24:0", "N22:0", "N18:0", "OH-N22:0", "N26:1"], "range": [56, 137.3], "padding": 0}, "axis": null},
        "shape": {"field": "series", "type": "nominal", "scale": {"domain": ["N24:1", "OH-N24:0", "N22:0", "N18:0", "OH-N22:0", "N26:1"], "range": ["square", "square", "circle", "circle", "triangle-up", "triangle-up"]}, "legend": null},
        "fill": {"field": "series", "type": "nominal", "scale": {"domain": ["N24:1", "OH-N24:0", "N22:0", "N18:0", "OH-N22:0", "N26:1"], "range": ["white", "black", "white", "black", "white", "black"]}, "legend": null}
      }
    },
    {
      "data": {"name": "legendC"},
      "mark": {"type": "text", "align": "left", "baseline": "middle", "fontSize": 12},
      "encoding": {
        "x": {"datum": -2.046, "type": "quantitative", "scale": {"domain": [-2.5, 1], "range": [442.3, 779], "nice": false, "zero": false}, "axis": null},
        "y": {"field": "series", "type": "nominal", "scale": {"type": "point", "domain": ["N24:1", "OH-N24:0", "N22:0", "N18:0", "OH-N22:0", "N26:1"], "range": [56, 137.3], "padding": 0}, "axis": null},
        "text": {"field": "label"}
      }
    }
  ],
  "resolve": {
    "scale": {"x": "independent", "y": "independent", "color": "independent", "fill": "independent", "shape": "independent"},
    "axis": {"x": "independent", "y": "independent"}
  }
}
